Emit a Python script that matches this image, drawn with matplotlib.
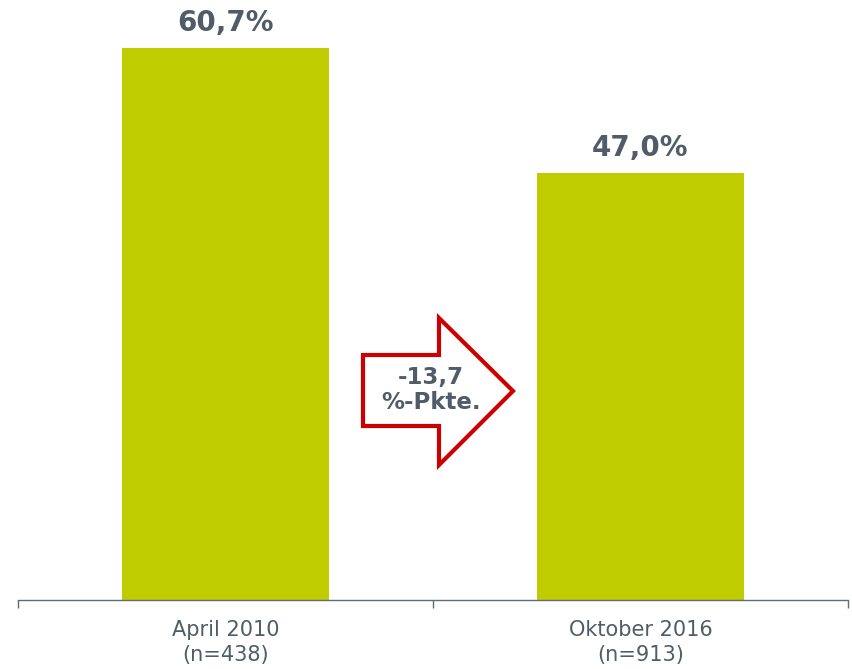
import matplotlib
matplotlib.use("Agg")
import matplotlib.pyplot as plt
from matplotlib.patches import Polygon

categories = ["April 2010\n(n=438)", "Oktober 2016\n(n=913)"]
values = [60.7, 47.0]
value_labels = ["60,7%", "47,0%"]
change_label = "-13,7\n%-Pkte."

bar_color = "#BFCC00"
text_color = "#505C68"
axis_color = "#5F6B78"
arrow_color = "#CC0000"

W, H = 852, 669
fig = plt.figure(figsize=(W / 100, H / 100), dpi=100)
ax = fig.add_axes([18 / W, (H - 600) / H, (848 - 18) / W, 600 / H])

x = list(range(len(values)))
ax.bar(x, values, width=0.5, color=bar_color, zorder=2)
ax.set_xlim(-0.5, len(values) - 0.5)
ax.set_ylim(0, 600 / 9.094)

for xi, v, lab in zip(x, values, value_labels):
    ax.annotate(lab, (xi, v), xytext=(0, 12), textcoords="offset points",
                ha="center", va="baseline", fontsize=20, fontweight="bold",
                color=text_color)

for s in ["top", "right", "left"]:
    ax.spines[s].set_visible(False)
ax.spines["bottom"].set_color(axis_color)
ax.spines["bottom"].set_linewidth(1.0)
ax.set_yticks([])
ax.set_xticks([-0.5, 0.5, 1.5])
ax.set_xticklabels([])
ax.set_xticks(x, minor=True)
ax.set_xticklabels(categories, minor=True, fontsize=15, color=text_color,
                   linespacing=1.27)
ax.tick_params(axis="x", which="major", length=6, color=axis_color, width=1)
ax.tick_params(axis="x", which="minor", length=0, pad=14.7)

# change arrow (figure pixel coordinates, converted to figure fraction)
arrow_px = [(363, 355), (439, 355), (439, 318), (513, 391),
            (439, 465), (439, 426), (363, 426)]
verts = [(px / W, 1 - py / H) for px, py in arrow_px]
poly = Polygon(verts, closed=True, facecolor="white", edgecolor=arrow_color,
               linewidth=3, transform=fig.transFigure, joinstyle="miter")
fig.patches.append(poly)
fig.text(431 / W, 1 - 390 / H, change_label, ha="center", va="center",
         fontsize=16.5, fontweight="bold", color=text_color, linespacing=1.1)

fig.savefig("out.png", dpi=100)
